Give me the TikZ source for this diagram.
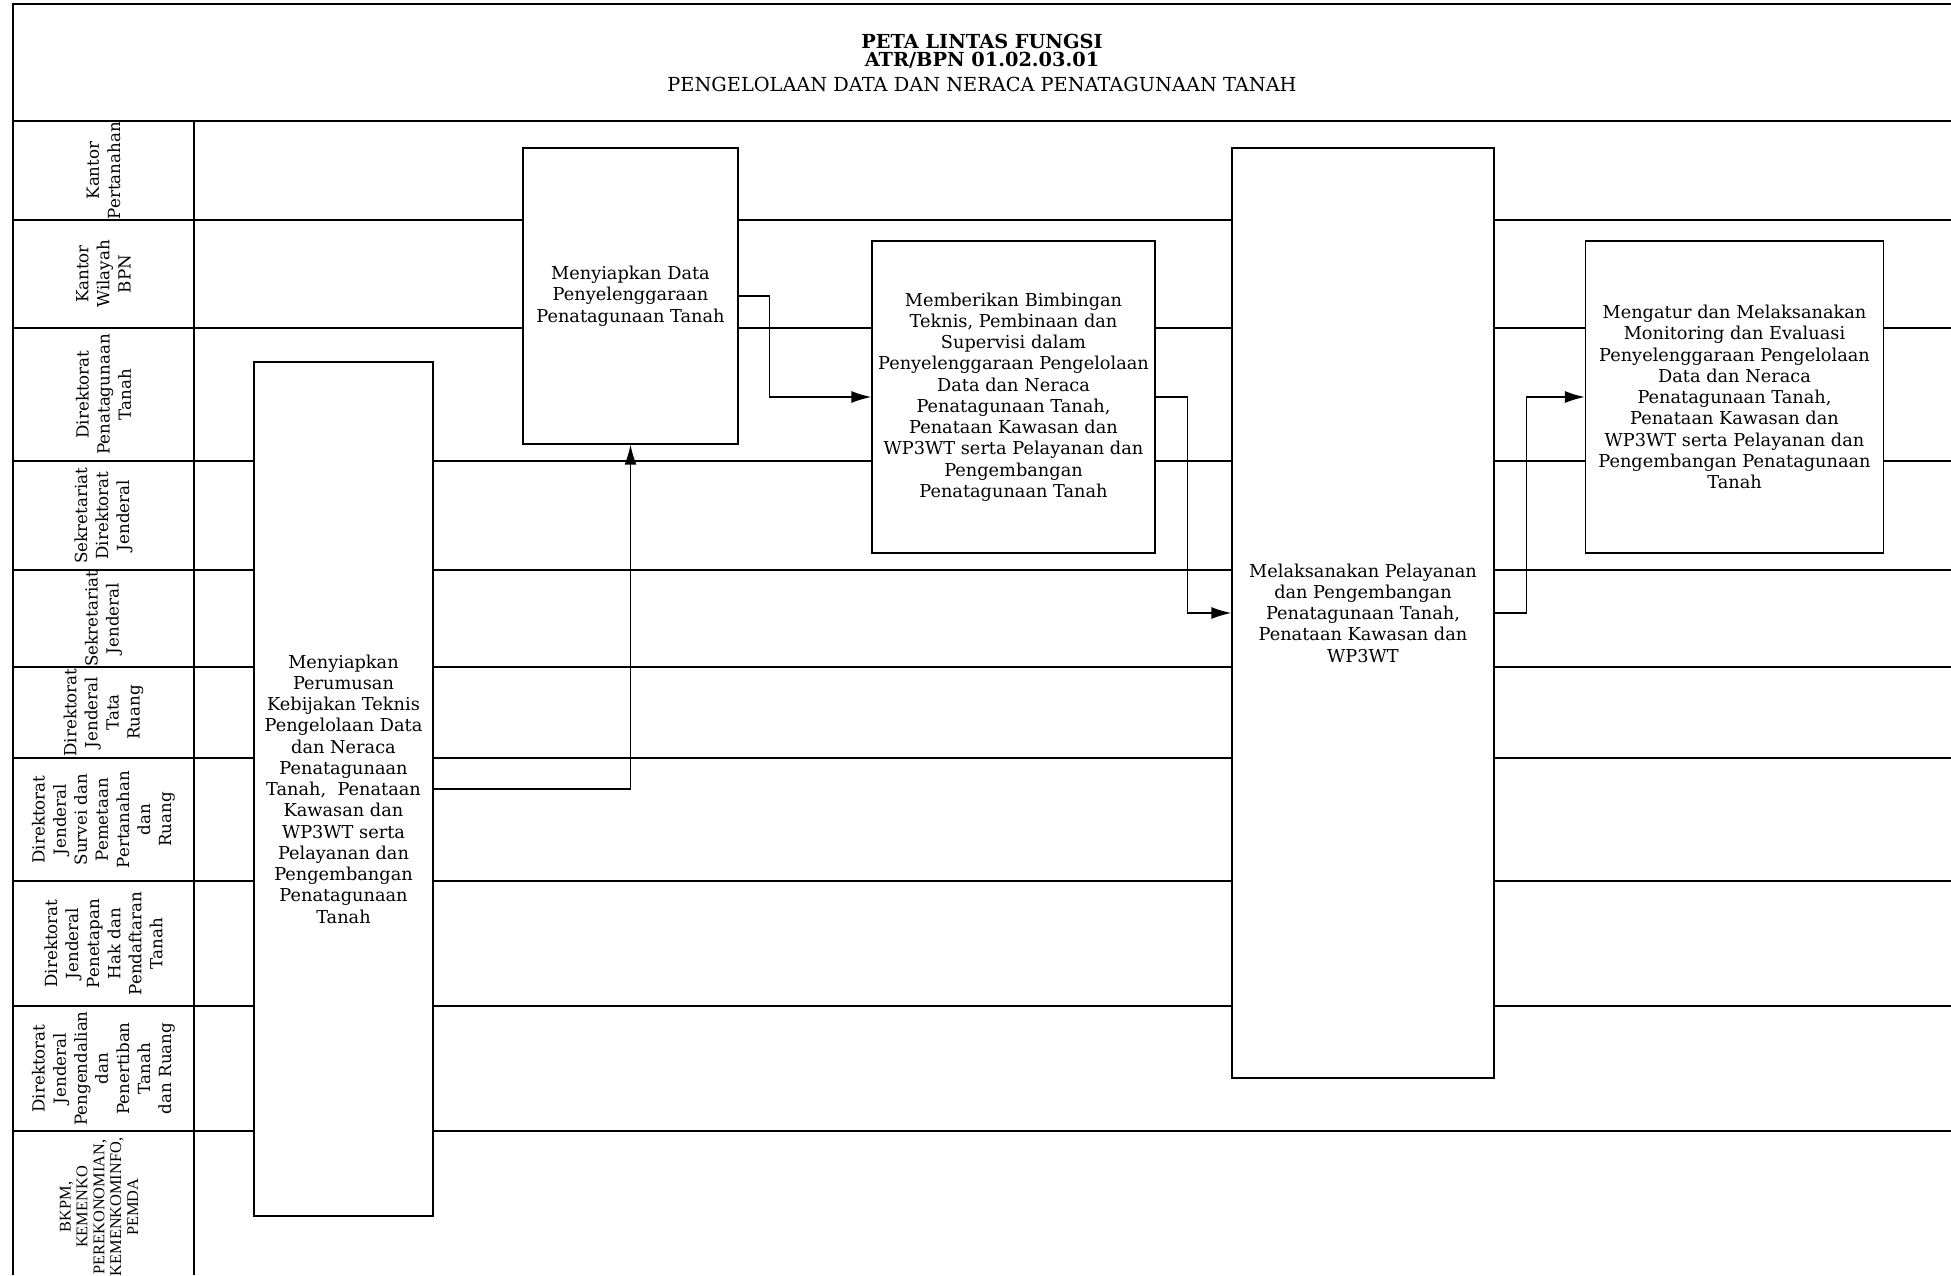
\documentclass[tikz,border=0pt]{standalone}
\usepackage{fontspec}
\setmainfont{DejaVu Serif}
\newfontfamily\timesfont{Liberation Serif}
\usetikzlibrary{arrows.meta,calc,positioning}

\tikzset{
    frame/.style={line width=1pt},
    lane/.style={line width=0.7pt},
    who/.style={rotate=90, align=center, inner sep=0pt, font=\fontsize{9.5}{12}\selectfont},
    proc/.style={draw, line width=0.8pt, fill=white, align=center, inner sep=0pt,
        font=\fontsize{10.1}{12.1}\selectfont},
    flow/.style={line width=0.8pt, -{Latex[length=4mm,width=2.4mm]}},
}

\begin{document}
\begin{tikzpicture}[x=0.02cm, y=-0.02cm]
\useasboundingbox (0,0) rectangle (1951,1275);
% Variables: 1 := top edge, 2 := bottom edge, 3 := ID, 4 := label.
\def\lane(#1,#2)#3#4{
    \node[who] (#3) at (103.5,{(#1+#2)/2}) {#4};
    \draw[lane] (13,#2) -- (1951,#2);
}
\draw[frame] (1951,4) -- (13,4) -- (13,1275);
\draw[frame] (13,121) -- (1951,121);
\node[align=center, font=\fontsize{11}{10.4}\selectfont] (title) at (982,63)
    {\textbf{PETA LINTAS FUNGSI}\\\textbf{ATR/BPN 01.02.03.01}\\[3.5pt]PENGELOLAAN DATA DAN NERACA PENATAGUNAAN TANAH};
\draw[lane] (194,121) -- (194,1275);

\lane(121,220){kantah}{Kantor\\Pertanahan}
\lane(220,328){kanwil}{Kantor\\Wilayah\\BPN}
\lane(328,461){dpt}{Direktorat\\Penatagunaan\\Tanah}
\lane(461,570){sesdit}{Sekretariat\\Direktorat\\Jenderal}
\lane(570,667){sesjen}{Sekretariat\\Jenderal}
\lane(667,758){djtr}{Direktorat\\Jenderal\\Tata\\Ruang}
\lane(758,881){djsp}{Direktorat\\Jenderal\\Survei dan\\Pemetaan\\Pertanahan\\dan\\Ruang}
\lane(881,1006){djph}{Direktorat\\Jenderal\\Penetapan\\Hak dan\\Pendaftaran\\Tanah}
\lane(1006,1131){djpp}{Direktorat\\Jenderal\\Pengendalian\\dan\\Penertiban\\Tanah\\dan Ruang}
\node[who, font=\timesfont\fontsize{9.3}{9.6}\selectfont] (luar) at (99,1207)
    {BKPM,\\KEMENKO\\PEREKONOMIAN,\\KEMENKOMINFO,\\PEMDA};

% process boxes
\node[proc, minimum width=3.58cm, minimum height=17.08cm] (prep) at (343.5,789)
    {Menyiapkan\\Perumusan\\Kebijakan Teknis\\Pengelolaan Data\\dan Neraca\\Penatagunaan\\Tanah,~ Penataan\\Kawasan dan\\WP3WT serta\\Pelayanan dan\\Pengembangan\\Penatagunaan\\Tanah};
\node[proc, minimum width=4.30cm, minimum height=5.92cm] (data) at (630.5,296)
    {Menyiapkan Data\\Penyelenggaraan\\Penatagunaan Tanah};
\node[proc, minimum width=5.66cm, minimum height=6.24cm] (guide) at (1013.5,397)
    {Memberikan Bimbingan\\Teknis, Pembinaan dan\\Supervisi dalam\\Penyelenggaraan Pengelolaan\\Data dan Neraca\\Penatagunaan Tanah,\\Penataan Kawasan dan\\WP3WT serta Pelayanan dan\\Pengembangan\\Penatagunaan Tanah};
\node[proc, minimum width=5.24cm, minimum height=18.60cm] (serve) at (1363,613)
    {Melaksanakan Pelayanan\\dan Pengembangan\\Penatagunaan Tanah,\\Penataan Kawasan dan\\WP3WT};
\node[proc, minimum width=5.96cm, minimum height=6.24cm] (monitor) at (1734.5,397)
    {Mengatur dan Melaksanakan\\Monitoring dan Evaluasi\\Penyelenggaraan Pengelolaan\\Data dan Neraca\\Penatagunaan Tanah,\\Penataan Kawasan dan\\WP3WT serta Pelayanan dan\\Pengembangan Penatagunaan\\Tanah};

% flows
\draw[flow] (prep.east) -| (data.south);
\draw[flow] (data.east) -- ++(31,0) |- (guide.west);
\draw[flow] (guide.east) -- ++(32,0) |- (serve.west);
\draw[flow] (serve.east) -- ++(32,0) |- (monitor.west);
\end{tikzpicture}
\end{document}
